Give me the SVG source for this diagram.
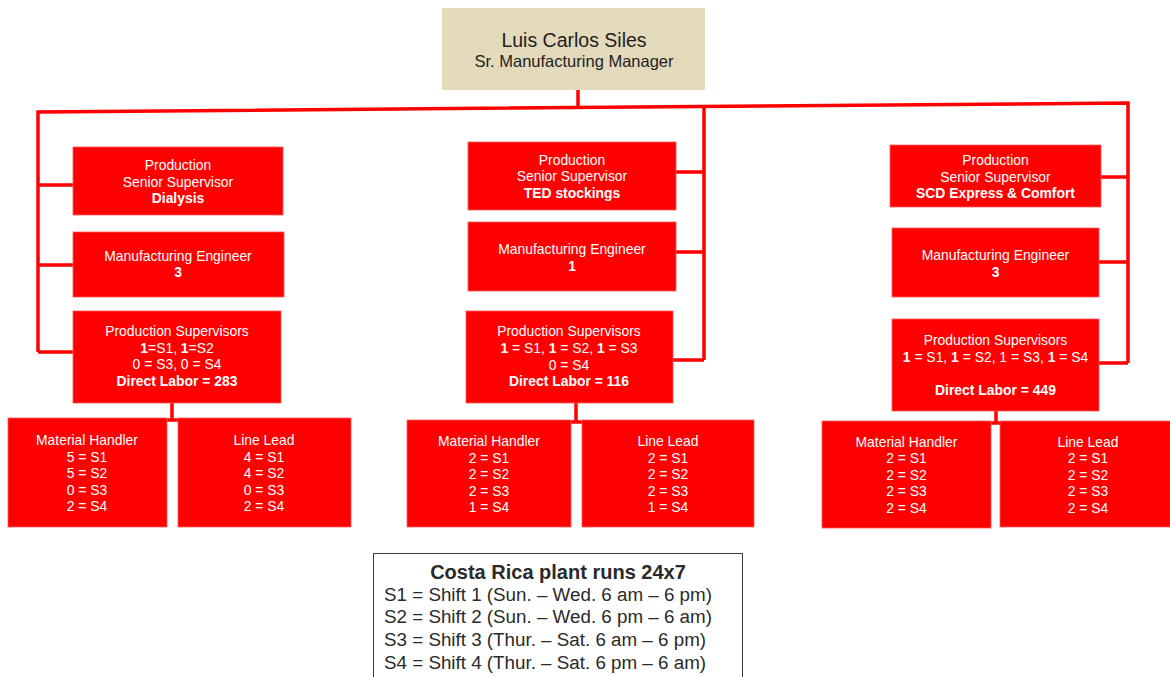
<svg xmlns="http://www.w3.org/2000/svg" width="1170" height="677" viewBox="0 0 1170 677">
  <style>
    .box { fill: #ff0000; stroke: #ff5a5a; stroke-width: 0.8; }
    .head { fill: #e3d9bb; }
    .t { font-family: "Liberation Sans", Arial, sans-serif; font-size: 13.9px; fill: #ffffff; text-anchor: middle; }
    .b { font-weight: bold; }
    .link { fill: none; stroke: #ff0000; stroke-width: 3.5; stroke-linejoin: miter; }
    .ht { font-family: "Liberation Sans", Arial, sans-serif; fill: #1e1e1e; text-anchor: middle; }
    .lg { font-family: "Liberation Sans", Arial, sans-serif; font-size: 18.8px; fill: #2a2a2a; }
    .lg-title { font-family: "Liberation Sans", Arial, sans-serif; font-size: 20px; font-weight: bold; fill: #2a2a2a; text-anchor: middle; }
  </style>

  <!-- connectors -->
  <g id="connectors">
    <path class="link" d="M578 90 V108"/>
    <path class="link" d="M38 352 V112 L1128 103 V363"/>
    <!-- left column branches -->
    <path class="link" d="M38 185 H73 M38 265 H73 M38 352 H73"/>
    <!-- middle column branches -->
    <path class="link" d="M704 108 V360 M676 172 H704 M676 252 H704 M673 360 H704"/>
    <!-- right column branches -->
    <path class="link" d="M1101 177 H1128 M1099 262 H1128 M1099 363 H1128"/>
    <!-- supervisor to handler/lead pairs -->
    <path class="link" d="M172 403 V420 M166 420 H178"/>
    <path class="link" d="M576 403 V422 M571 422 H582"/>
    <path class="link" d="M996 411 V423 M991 423 H1000"/>
  </g>

  <!-- manager -->
  <g id="manager">
    <rect class="head" x="442" y="8" width="263" height="82"/>
    <text class="ht" x="574" y="47" font-size="19.5">Luis Carlos Siles</text>
    <text class="ht" x="574" y="67" font-size="16.5">Sr. Manufacturing Manager</text>
  </g>

  <!-- Dialysis column -->
  <g id="dialysis-senior">
    <rect class="box" x="73" y="147" width="210" height="68"/>
    <text class="t" x="178" y="170">Production</text>
    <text class="t" x="178" y="187">Senior Supervisor</text>
    <text class="t b" x="178" y="203">Dialysis</text>
  </g>
  <g id="dialysis-engineer">
    <rect class="box" x="73" y="232" width="211" height="65"/>
    <text class="t" x="178" y="261">Manufacturing Engineer</text>
    <text class="t b" x="178" y="277">3</text>
  </g>
  <g id="dialysis-supervisors">
    <rect class="box" x="73" y="311" width="208" height="92"/>
    <text class="t" x="177" y="336">Production Supervisors</text>
    <text class="t" x="177" y="353"><tspan class="b">1</tspan>=S1, <tspan class="b">1</tspan>=S2</text>
    <text class="t" x="177" y="369">0 = S3, 0 = S4</text>
    <text class="t b" x="177" y="386">Direct Labor = 283</text>
  </g>
  <g id="dialysis-handler">
    <rect class="box" x="8" y="418" width="159" height="109"/>
    <text class="t" x="87" y="445">Material Handler</text>
    <text class="t" x="87" y="462">5 = S1</text>
    <text class="t" x="87" y="478">5 = S2</text>
    <text class="t" x="87" y="495">0 = S3</text>
    <text class="t" x="87" y="511">2 = S4</text>
  </g>
  <g id="dialysis-lead">
    <rect class="box" x="178" y="418" width="173" height="109"/>
    <text class="t" x="264" y="445">Line Lead</text>
    <text class="t" x="264" y="462">4 = S1</text>
    <text class="t" x="264" y="478">4 = S2</text>
    <text class="t" x="264" y="495">0 = S3</text>
    <text class="t" x="264" y="511">2 = S4</text>
  </g>

  <!-- TED stockings column -->
  <g id="ted-senior">
    <rect class="box" x="468" y="142" width="208" height="68"/>
    <text class="t" x="572" y="165">Production</text>
    <text class="t" x="572" y="181">Senior Supervisor</text>
    <text class="t b" x="572" y="198">TED stockings</text>
  </g>
  <g id="ted-engineer">
    <rect class="box" x="468" y="222" width="208" height="69"/>
    <text class="t" x="572" y="254">Manufacturing Engineer</text>
    <text class="t b" x="572" y="271">1</text>
  </g>
  <g id="ted-supervisors">
    <rect class="box" x="466" y="311" width="207" height="92"/>
    <text class="t" x="569" y="336">Production Supervisors</text>
    <text class="t" x="569" y="353"><tspan class="b">1</tspan> = S1, <tspan class="b">1</tspan> = S2, <tspan class="b">1</tspan> = S3</text>
    <text class="t" x="569" y="370">0 = S4</text>
    <text class="t b" x="569" y="386">Direct Labor = 116</text>
  </g>
  <g id="ted-handler">
    <rect class="box" x="407" y="420" width="164" height="107"/>
    <text class="t" x="489" y="446">Material Handler</text>
    <text class="t" x="489" y="463">2 = S1</text>
    <text class="t" x="489" y="479">2 = S2</text>
    <text class="t" x="489" y="496">2 = S3</text>
    <text class="t" x="489" y="512">1 = S4</text>
  </g>
  <g id="ted-lead">
    <rect class="box" x="582" y="420" width="172" height="107"/>
    <text class="t" x="668" y="446">Line Lead</text>
    <text class="t" x="668" y="463">2 = S1</text>
    <text class="t" x="668" y="479">2 = S2</text>
    <text class="t" x="668" y="496">2 = S3</text>
    <text class="t" x="668" y="512">1 = S4</text>
  </g>

  <!-- SCD Express & Comfort column -->
  <g id="scd-senior">
    <rect class="box" x="890" y="145" width="211" height="62"/>
    <text class="t" x="995.5" y="165">Production</text>
    <text class="t" x="995.5" y="182">Senior Supervisor</text>
    <text class="t b" x="995.5" y="198">SCD Express &amp; Comfort</text>
  </g>
  <g id="scd-engineer">
    <rect class="box" x="892" y="228" width="207" height="69"/>
    <text class="t" x="995.5" y="260">Manufacturing Engineer</text>
    <text class="t b" x="995.5" y="277">3</text>
  </g>
  <g id="scd-supervisors">
    <rect class="box" x="892" y="319" width="207" height="92"/>
    <text class="t" x="995.5" y="345">Production Supervisors</text>
    <text class="t" x="995.5" y="362"><tspan class="b">1</tspan> = S1, <tspan class="b">1</tspan> = S2, 1 = S3, <tspan class="b">1</tspan> = S4</text>
    <text class="t b" x="995.5" y="395">Direct Labor = 449</text>
  </g>
  <g id="scd-handler">
    <rect class="box" x="822" y="421" width="169" height="107"/>
    <text class="t" x="906.5" y="447">Material Handler</text>
    <text class="t" x="906.5" y="463">2 = S1</text>
    <text class="t" x="906.5" y="480">2 = S2</text>
    <text class="t" x="906.5" y="496">2 = S3</text>
    <text class="t" x="906.5" y="513">2 = S4</text>
  </g>
  <g id="scd-lead">
    <rect class="box" x="1000" y="421" width="172" height="106"/>
    <text class="t" x="1088" y="447">Line Lead</text>
    <text class="t" x="1088" y="463">2 = S1</text>
    <text class="t" x="1088" y="480">2 = S2</text>
    <text class="t" x="1088" y="496">2 = S3</text>
    <text class="t" x="1088" y="513">2 = S4</text>
  </g>

  <!-- shift legend -->
  <g id="legend">
    <rect x="373.5" y="553.5" width="369" height="140" fill="#ffffff" stroke="#3a3a3a" stroke-width="1"/>
    <text class="lg-title" x="558" y="579">Costa Rica plant runs 24x7</text>
    <text class="lg" x="384" y="601">S1 = Shift 1 (Sun. – Wed. 6 am – 6 pm)</text>
    <text class="lg" x="384" y="623">S2 = Shift 2 (Sun. – Wed. 6 pm – 6 am)</text>
    <text class="lg" x="384" y="646">S3 = Shift 3 (Thur. – Sat. 6 am – 6 pm)</text>
    <text class="lg" x="384" y="669">S4 = Shift 4 (Thur. – Sat. 6 pm – 6 am)</text>
  </g>
</svg>
